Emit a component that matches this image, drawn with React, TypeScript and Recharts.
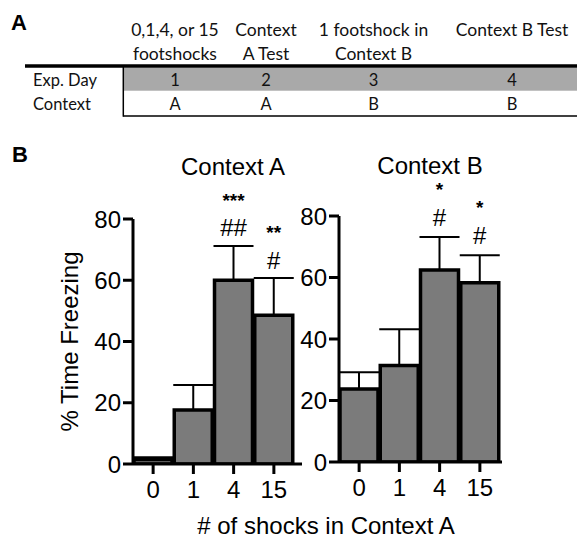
import React from 'react';
import { BarChart, Bar, XAxis, YAxis, ErrorBar, LabelList } from 'recharts';

// ---- data ----
const shocks = ['0', '1', '4', '15'];
const contextAMean = [1.5, 17.6, 60.0, 48.6];
const contextAErr = [0.7, 8.2, 11.2, 12.1];
const contextAHash = ['', '', '##', '#'];
const contextAStar = ['', '', '***', '**'];

const contextBMean = [23.7, 31.4, 62.4, 58.3];
const contextBErr = [5.5, 11.8, 10.8, 8.9];
const contextBHash = ['', '', '#', '#'];
const contextBStar = ['', '', '*', '*'];

const yTicks = [0, 20, 40, 60, 80];

const tableDays = ['1', '2', '3', '4'];
const tableContexts = ['A', 'A', 'B', 'B'];
const tableHeaderLine1 = ['0,1,4, or 15', 'Context', '1 footshock in', 'Context B Test'];
const tableHeaderLine2 = ['footshocks', 'A Test', 'Context B', ''];

const buildRows = (means: number[], errs: number[], hashes: string[], stars: string[]) =>
  shocks.map((s, i) => ({
    shocks: s,
    v: means[i],
    err: [0, errs[i]],
    hash: hashes[i],
    star: stars[i],
  }));

const dataA = buildRows(contextAMean, contextAErr, contextAHash, contextAStar);
const dataB = buildRows(contextBMean, contextBErr, contextBHash, contextBStar);

const FONT = '"Liberation Sans", Arial, Helvetica, sans-serif';
const TABLE_FONT = 'Lato, "Open Sans", sans-serif';
const BAR_FILL = '#7b7b7b';

const makeSigLabel = (means: number[], errs: number[], hashes: string[], stars: string[], hashOff: number, starOff: number) =>
  (props: any) => {
    const idx = props.index;
    const x = Number(props.x ?? props.viewBox?.x);
    const y = Number(props.y ?? props.viewBox?.y);
    const w = Number(props.width ?? props.viewBox?.width);
    const h = Number(props.height ?? props.viewBox?.height);
    if (idx == null || !hashes[idx]) return null;
    const v = means[idx];
    const perUnit = h / v;
    const errTop = y - errs[idx] * perUnit;
    const cx = x + w / 2;
    return (
      <g>
        <text x={cx} y={errTop - hashOff + 8.5} textAnchor="middle" fontSize={24} fontFamily={FONT} fill="#000">
          {hashes[idx]}
        </text>
        <text x={cx} y={errTop - starOff + 11} textAnchor="middle" fontSize={19} fontFamily={FONT} fontWeight="bold" fill="#000">
          {stars[idx]}
        </text>
      </g>
    );
  };

const axisStroke = { stroke: '#000', strokeWidth: 3 };
const tickStyle = { fill: '#000', fontSize: 24, fontFamily: FONT };

function Panel(props: {
  data: any[];
  width: number;
  yAxisWidth: number;
  margin: any;
  padRight: number;
  means: number[];
  errs: number[];
  hashes: string[];
  stars: string[];
  hashOff: number;
  starOff: number;
  showYLabel: boolean;
}) {
  return (
    <BarChart
      width={props.width}
      height={410}
      data={props.data}
      margin={props.margin}
      barCategoryGap={1}
    >
      <XAxis
        dataKey="shocks"
        axisLine={axisStroke}
        tickLine={axisStroke}
        tick={tickStyle}
        tickSize={10}
        tickMargin={7}
        height={40}
        padding={{ left: 0, right: props.padRight }}
        interval={0}
      />
      <YAxis
        domain={[0, 80]}
        ticks={yTicks}
        width={props.yAxisWidth}
        axisLine={axisStroke}
        tickLine={axisStroke}
        tick={tickStyle}
        tickSize={10}
        tickMargin={2}
        allowDataOverflow
        label={
          props.showYLabel
            ? {
                content: (lp: any) => {
                  const vb = lp.viewBox || {};
                  const cx = 78;
                  const cy = (vb.y ?? 89) + (vb.height ?? 245) / 2;
                  return (
                    <text
                      x={cx}
                      y={cy}
                      transform={`rotate(-90 ${cx} ${cy})`}
                      textAnchor="middle"
                      fontSize={24}
                      fontFamily={FONT}
                      fill="#000"
                    >
                      % Time Freezing
                    </text>
                  );
                },
              }
            : undefined
        }
      />
      <Bar dataKey="v" fill={BAR_FILL} stroke="#000" strokeWidth={3.5} isAnimationActive={false}>
        <ErrorBar dataKey="err" width={20} strokeWidth={2} stroke="#000" direction="y" isAnimationActive={false} />
        <LabelList
          dataKey="hash"
          content={makeSigLabel(props.means, props.errs, props.hashes, props.stars, props.hashOff, props.starOff)}
        />
      </Bar>
    </BarChart>
  );
}

export default function App() {
  const colX = [175, 266, 373.5, 512];
  return (
    <div
      style={{
        position: 'absolute',
        left: 0,
        top: 0,
        width: 577,
        height: 540,
        background: '#fff',
        fontFamily: FONT,
        overflow: 'hidden',
      }}
    >
      {/* Panel A table */}
      <svg width={577} height={130} style={{ position: 'absolute', left: 0, top: 0 }}>
        <text x={11} y={29.5} fontSize={22} fontWeight="bold" fontFamily={FONT} fill="#000">A</text>
        {tableHeaderLine1.map((t, i) => (
          <text key={'h1' + i} x={colX[i]} y={36} textAnchor="middle" fontSize={17.5} fontFamily={TABLE_FONT} fill="#111">{t}</text>
        ))}
        {tableHeaderLine2.map((t, i) => (
          <text key={'h2' + i} x={colX[i]} y={60} textAnchor="middle" fontSize={17.5} fontFamily={TABLE_FONT} fill="#111">{t}</text>
        ))}
        <rect x={123.3} y={67.7} width={454} height={23} fill="#a9a9a9" />
        <line x1={25} y1={66} x2={577} y2={66} stroke="#000" strokeWidth={3.5} />
        <line x1={123.3} y1={67} x2={123.3} y2={116.7} stroke="#000" strokeWidth={1.5} />
        <line x1={123.3} y1={116} x2={577} y2={116} stroke="#000" strokeWidth={1.5} />
        <text x={33} y={86} fontSize={16.5} fontFamily={TABLE_FONT} fill="#111">Exp. Day</text>
        <text x={33} y={110} fontSize={16.5} fontFamily={TABLE_FONT} fill="#111">Context</text>
        {tableDays.map((t, i) => (
          <text key={'d' + i} x={colX[i]} y={86} textAnchor="middle" fontSize={16.5} fontFamily={TABLE_FONT} fill="#111">{t}</text>
        ))}
        {tableContexts.map((t, i) => (
          <text key={'c' + i} x={colX[i]} y={110} textAnchor="middle" fontSize={16.5} fontFamily={TABLE_FONT} fill="#111">{t}</text>
        ))}
      </svg>

      {/* Panel B charts */}
      <div style={{ position: 'absolute', left: 0, top: 130 }}>
        <Panel
          data={dataA}
          width={310}
          yAxisWidth={133}
          margin={{ top: 89, right: 8, bottom: 36, left: 0 }}
          padRight={8}
          means={contextAMean}
          errs={contextAErr}
          hashes={contextAHash}
          stars={contextAStar}
          hashOff={18}
          starOff={50}
          showYLabel
        />
      </div>
      <div style={{ position: 'absolute', left: 300, top: 130 }}>
        <Panel
          data={dataB}
          width={277}
          yAxisWidth={39}
          margin={{ top: 86, right: 75, bottom: 38, left: 0 }}
          padRight={2}
          means={contextBMean}
          errs={contextBErr}
          hashes={contextBHash}
          stars={contextBStar}
          hashOff={19.5}
          starOff={52}
          showYLabel={false}
        />
      </div>

      {/* Titles and shared axis label */}
      <svg width={577} height={540} style={{ position: 'absolute', left: 0, top: 0, pointerEvents: 'none' }}>
        <text x={12} y={162} fontSize={22} fontWeight="bold" fontFamily={FONT} fill="#000">B</text>
        <text x={233} y={175} textAnchor="middle" fontSize={24} fontFamily={FONT} fill="#000">Context A</text>
        <text x={430} y={174} textAnchor="middle" fontSize={24} fontFamily={FONT} fill="#000">Context B</text>
        <text x={326} y={534} textAnchor="middle" fontSize={24} fontFamily={FONT} fill="#000"># of shocks in Context A</text>
      </svg>
    </div>
  );
}
